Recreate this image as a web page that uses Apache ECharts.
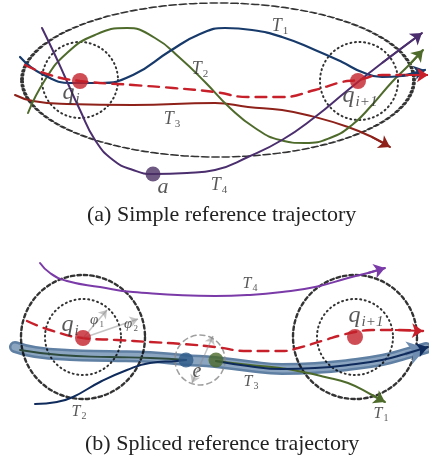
<!DOCTYPE html>
<html><head><meta charset="utf-8">
<script src="https://cdn.jsdelivr.net/npm/echarts@6/dist/echarts.min.js"></script>
<style>html,body{margin:0;padding:0;background:#fff}#c{width:429px;height:466px}</style>
</head><body><div id="c"></div>
<script>
// ---------- (a) simple reference trajectory ----------
const topT1 = [[20,57],[42,74],[72,83],[100,83],[133,75],[170,51],[200,34],[225,28],[252,30],[282,37],[315,50],[342,62],[362,72],[382,77],[402,76],[425,70]];
const topT2 = [[28,113],[45,80],[67,53],[95,35],[127,28],[155,38],[180,58],[205,82],[230,108],[255,128],[280,140],[305,143],[330,138],[352,125],[372,105],[392,82],[410,64],[423,50]];
const topT3 = [[15,95],[33,101],[67,104],[133,105],[215,103],[248,107],[282,110],[315,117],[348,127],[372,137],[390,147]];
const topT4 = [[42,28],[55,55],[65,77],[80,110],[95,140],[113,160],[133,170],[153,174],[187,173],[215,170],[248,157],[282,140],[315,117],[348,90],[382,63],[422,33]];
const topRef = [[25,65],[50,75],[80,81],[133,85],[173,88],[215,92],[248,97],[282,97],[315,90],[342,82],[358,80],[382,75],[405,75],[428,75]];
// ---------- (b) spliced reference trajectory ----------
const botT4 = [[40,263],[50,273],[67,281],[100,287],[133,292],[215,296],[248,295],[282,292],[315,287],[348,278],[368,273],[385,268]];
const botRef = [[27,321],[50,330],[83,338],[117,340],[150,342],[183,344],[215,347],[248,351],[282,351],[298,348],[325,340],[342,335],[355,332],[372,330],[395,330],[423,331]];
const botBand = [[15,347],[35,352],[70,355],[110,356],[150,357],[185,360],[215,362],[248,366],[282,369],[315,368],[348,365],[382,360],[405,354],[426,348]];
const botT3left = [[20,350],[60,355],[110,357],[150,358],[186,360]];
const botT2 = [[35,404],[57,402],[73,397],[100,382],[127,370],[150,363],[177,361],[186,360]];
const botNavy = [[216,361],[248,366],[282,369],[315,368],[348,365],[382,360],[405,354],[428,347]];
const botT1 = [[216,361],[250,365],[280,368],[303,372],[325,377],[348,383],[372,395],[385,402]];
// regions: [cx, cy, width, height]
const bigEllipse = [[218,80,392,154]];
const dashedCircles = [[83,337,124,124],[355,337,124,124]];
const dottedCircles = [[80,80,76,76],[359,81,78,78],[83,337,76,76],[355,337,76,76]];
const eCircle = [[200,360,50,50]];
// points
const refPoints = [[80,81],[358,81],[83,338],[355,337]];
const pointA = [[153,174]];
const splicePoints = [[186,360,'#2e5b8a'],[216,360,'#4b6a2a']];
// gray vectors
const phiVectors = [[[83,338],[107,310]],[[83,338],[138,319]]];
const eVector = [[[192,383],[213,336]]];
// labels: [x, y, main, sub, subItalic, size]
const labelsTop = [
  [280,26,'T','1',false,18],[200,69,'T','2',false,18],[172,119,'T','3',false,18],[219,185,'T','4',false,18],
  [71,93,'q','i',true,24],[360,96,'q','i+1',true,24],[163,187,'a','',false,22]
];
const labelsBot = [
  [250,284,'T','4',false,16],[70,325,'q','i',true,24],[97,320,'φ','1',false,15],[131,324,'φ','2',false,15],
  [366,316,'q','i+1',true,24],[197,372,'e','',false,20],[251,382,'T','3',false,16],[79,412,'T','2',false,16],[381,414,'T','1',false,16]
];
const captions = ['(a) Simple reference trajectory','(b) Spliced reference trajectory'];

const serif = 'Liberation Serif, Times New Roman, serif';
const ink = '#2e2e2e';
function curve(data, color, width, extra) {
  return Object.assign({type:'line', data, smooth:0.5, showSymbol:false, symbol:'none', silent:true, animation:false,
    lineStyle:Object.assign({color, width, cap:'round'}, extra||{})}, {z:3});
}
function arrowSeg(data, color, size, width) {
  const n = data.length;
  return {type:'lines', coordinateSystem:'cartesian2d', silent:true, animation:false, z:4,
    symbol:['none','arrow'], symbolSize:size,
    lineStyle:{color, width, opacity:1},
    data:[{coords:[data[n-2], data[n-1]]}]};
}
function regions(list, color, width, dash, symbol, z) {
  return {type:'scatter', silent:true, animation:false, z:z||2,
    symbol: symbol || 'circle',
    data: list.map(r => ({value:[r[0],r[1]], symbolSize:[r[2],r[3]]})),
    itemStyle:{color:'rgba(0,0,0,0)', borderColor:color, borderWidth:width, borderType:dash, borderCap:'round'}};
}
function labelSeries(list) {
  return {type:'scatter', silent:true, animation:false, z:10, symbolSize:0,
    data: list.map(l => {
      const sz = l[5], sub = Math.round(sz*0.62);
      const pad = Math.round(sz - sub + sz*0.18);
      return {value:[l[0],l[1]], label:{show:true, position:'inside',
        formatter: l[3] ? '{m|'+l[2]+'}{'+(l[4]?'si':'s')+'|'+l[3]+'}' : '{m|'+l[2]+'}',
        rich:{
          m:{fontFamily:serif, fontStyle:'italic', fontSize:sz, lineHeight:sz, color:ink},
          s:{fontFamily:serif, fontSize:sub, lineHeight:sub, padding:[pad,0,0,1], color:ink},
          si:{fontFamily:serif, fontStyle:'italic', fontSize:sub, lineHeight:sub, padding:[pad,0,0,1], color:ink}
        }}};
    })};
}
const ellipsePath = 'path://M0,50 A50,50 0 1 1 100,50 A50,50 0 1 1 0,50 Z';

const series = [
  regions(bigEllipse, '#000', 2.4, [3.5,3], ellipsePath),
  regions(dashedCircles, '#000', 2.4, [3.5,3]),
  regions(dottedCircles, '#000', 2, [1,3.6]),
  regions(eCircle, '#888', 1.6, [5,4]),
  // top curves
  curve(topT3, '#8e2119', 2),
  curve(topT2, '#4f6b2c', 2),
  curve(topT1, '#173a6b', 2.2),
  curve(topT4, '#4b2e6e', 2),
  curve(topRef, '#c8202a', 2.4, {type:[11,7]}),
  arrowSeg(topT3, '#8e2119', 11, 2),
  arrowSeg(topT2, '#4f6b2c', 11, 2),
  arrowSeg(topT1, '#173a6b', 11, 2),
  arrowSeg(topT4, '#4b2e6e', 11, 2),
  arrowSeg(topRef, '#c8202a', 11, 2),
  // bottom curves
  curve(botT4, '#7a3aa8', 2),
  Object.assign(curve(botBand, '#5f7fa3', 12), {z:2}),
  Object.assign(curve(botBand, '#8ba4c0', 7), {z:2}),
  arrowSeg(botBand, '#6f8db0', 18, 4),
  curve(botT3left, '#2d4a3c', 1.8),
  curve(botT2, '#0f2b5c', 2),
  curve(botT1, '#4f6b2c', 2),
  curve(botNavy, '#0f2b5c', 2),
  arrowSeg(botT1, '#4f6b2c', 11, 2),
  arrowSeg(botNavy, '#0f2b5c', 11, 2),
  arrowSeg(botT4, '#7a3aa8', 11, 2),
  curve(botRef, '#c8202a', 2.4, {type:[11,7]}),
  arrowSeg(botRef, '#c8202a', 11, 2),
  {type:'lines', coordinateSystem:'cartesian2d', silent:true, animation:false, z:6,
   symbol:['none','arrow'], symbolSize:8, lineStyle:{color:'#8a8a8a', width:1.5},
   data: phiVectors.map(c => ({coords:c}))},
  {type:'lines', coordinateSystem:'cartesian2d', silent:true, animation:false, z:6,
   symbol:['arrow','arrow'], symbolSize:8, lineStyle:{color:'#8a8a8a', width:1.5},
   data: eVector.map(c => ({coords:c}))},
  // points
  {type:'scatter', silent:true, animation:false, z:7, symbolSize:16, data:refPoints, itemStyle:{color:'#c3202b'}},
  {type:'scatter', silent:true, animation:false, z:7, symbolSize:15, data:pointA, itemStyle:{color:'#4a2f64'}},
  {type:'scatter', silent:true, animation:false, z:7, symbolSize:15,
   data: splicePoints.map(p => ({value:[p[0],p[1]], itemStyle:{color:p[2]}}))},
  labelSeries(labelsTop),
  labelSeries(labelsBot)
];

const chart = echarts.init(document.getElementById('c'), null, {renderer:'canvas'});
chart.setOption({
  animation:false,
  backgroundColor:'#ffffff',
  grid:{left:0, right:0, top:0, bottom:0},
  xAxis:{type:'value', min:0, max:429, show:false},
  yAxis:{type:'value', min:0, max:466, inverse:true, show:false},
  title:[
    {text:captions[0], left:82, top:199, textStyle:{fontFamily:serif, fontSize:22, fontWeight:'normal', color:'#222'}},
    {text:captions[1], left:80, top:428, textStyle:{fontFamily:serif, fontSize:22, fontWeight:'normal', color:'#222'}}
  ],
  series
});
</script></body></html>
